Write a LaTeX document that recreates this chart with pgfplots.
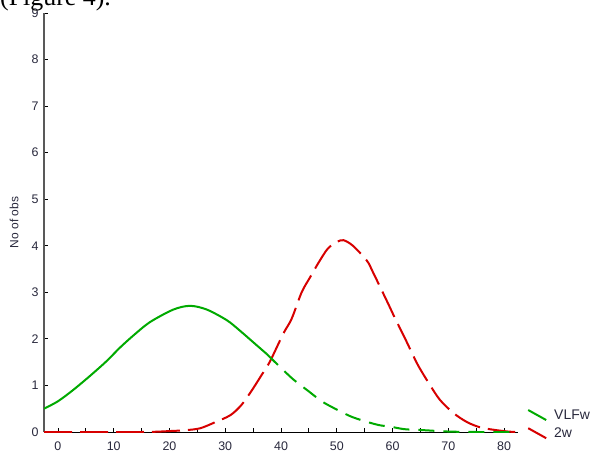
\documentclass[border=0pt]{standalone}
\usepackage{fontspec}
\setmainfont{Liberation Sans}
\newfontfamily\seriffont{Liberation Serif}
\usepackage{pgfplots}
\pgfplotsset{compat=1.18}
\definecolor{cgreen}{RGB}{0,170,0}
\definecolor{cred}{RGB}{215,0,0}
\definecolor{ctext}{RGB}{40,40,60}
\begin{document}
\begin{tikzpicture}
\begin{axis}[
  at={(0,0)}, anchor=south west,
  scale only axis, width=474bp, height=419bp,
  xmin=-2.5, xmax=82.5, ymin=0, ymax=9,
  axis x line=bottom, axis y line=left,
  x axis line style={-, black, line width=0.9bp},
  y axis line style={-, black!65, line width=1.2bp},
  xtick={0,10,...,80}, minor x tick num=1,
  ytick={0,1,...,9},
  tick align=inside,
  major tick length=4bp, minor tick length=4bp,
  tick style={black, line width=0.8bp},
  /pgf/number format/assume math mode=true,
  ticklabel style={font=\fontsize{12.5}{14}\selectfont, text=ctext},
  xticklabel style={yshift=-6bp},
  yticklabel style={xshift=-2bp},
  ylabel={No of obs},
  ylabel style={font=\fontsize{12}{14}\selectfont, text=ctext, at={(axis description cs:-0.063,0.5)}, anchor=center},
  legend cell align=left,
  legend style={at={(rel axis cs:1,0)}, anchor=south west, xshift=9bp, yshift=-9bp,
    draw=none, fill=none, font=\fontsize{14}{16}\selectfont, text=ctext, inner sep=0pt, row sep=3bp, column sep=5bp},
  legend image code/.code={\draw[#1, solid] (0bp,5bp) -- (18bp,-5bp);},
]
\addplot[cgreen, line width=2bp, smooth] coordinates {
(-2.5,0.50) (0,0.66) (2.7,0.90) (5.7,1.20) (8.7,1.52) (11.1,1.81) (13.5,2.07)
(16.5,2.36) (20.7,2.63) (23.7,2.71) (26.7,2.63) (30.3,2.40) (32.6,2.18) (35,1.93) (37.4,1.68)
};
\addlegendentry{VLFw}
\addplot[cred, line width=2bp, smooth, dash pattern=on 28bp off 8bp] coordinates {
(-2.5,0) (15,0) (20,0.02) (23,0.04) (25.5,0.08) (28,0.2) (30.9,0.36) (32.9,0.58)
(34.8,0.9) (36.5,1.22) (38,1.51) (40.4,2.11) (41.9,2.43) (43.7,3.0) (45.2,3.32)
(46.8,3.65) (48.4,3.94) (50,4.08) (51.2,4.12) (52.9,4.0) (55.4,3.68) (56.5,3.43)
(59.2,2.76) (60.3,2.48) (62.4,1.97) (64.5,1.45) (66.5,1.05) (68.5,0.69) (71,0.4)
(73.4,0.21) (75.7,0.1) (78,0.05) (80.7,0.01) (82,0)
};
\addlegendentry{2w}
\addplot[cgreen, line width=2bp, smooth, dash pattern=on 16bp off 9bp, forget plot] coordinates {
(37.4,1.68) (39.8,1.40) (42.2,1.13) (44.9,0.88) (47.3,0.66) (49.7,0.50) (52.4,0.34)
(54.8,0.24) (57.5,0.15) (59.8,0.11) (62.2,0.06) (65.5,0.04) (70,0.01) (75,0) (82.5,0)
};
\end{axis}
\node[anchor=base west, inner sep=0pt, font=\seriffont\fontsize{26}{30}\selectfont] at (-44bp,426bp) {(Figure 4).};
\pgfresetboundingbox
\useasboundingbox (-44bp,-22bp) rectangle (549bp,432bp);
\end{tikzpicture}
\end{document}
